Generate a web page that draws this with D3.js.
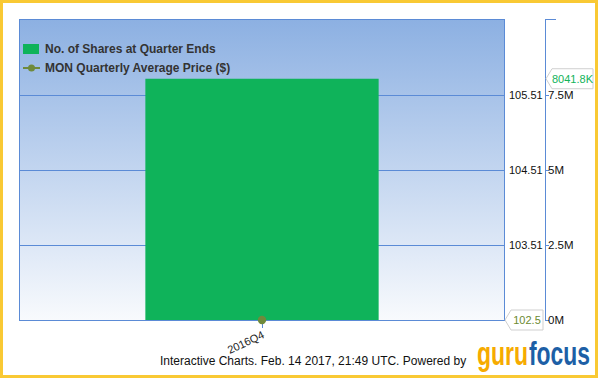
<!DOCTYPE html>
<html><head><meta charset="utf-8">
<script src="https://cdn.jsdelivr.net/npm/d3@7"></script>
<style>body{margin:0;background:#fff}svg{display:block}text{font-family:"Liberation Sans",Arial,sans-serif}</style>
</head><body>
<svg id="c" width="600" height="380"></svg>
<script>
const categories = ["2016Q4"];
const shares = [8041.8e3];
const prices = [102.5];
const priceTicks = [103.51, 104.51, 105.51];
const shareTicks = [0, 2.5e6, 5e6, 7.5e6];
const shareTickLabels = ["0M", "2.5M", "5M", "7.5M"];
const seriesNames = ["No. of Shares at Quarter Ends", "MON Quarterly Average Price ($)"];

const svg = d3.select("#c");
const L = 19, R = 505, T = 19, B = 320, AX2 = 545;

const defs = svg.append("defs");
const g = defs.append("linearGradient").attr("id","bg").attr("x1",0).attr("y1",0).attr("x2",0).attr("y2",1);
g.append("stop").attr("offset","0%").attr("stop-color","#8cb0e2");
g.append("stop").attr("offset","100%").attr("stop-color","#f8fafd");

svg.append("rect").attr("x",1.5).attr("y",1.5).attr("width",595).attr("height",375)
  .attr("fill","#fff").attr("stroke","#f9c934").attr("stroke-width",3);

const x = d3.scaleBand().domain(categories).range([L, R]).padding(0);
const ys = d3.scaleLinear().domain([0, 7.5e6 * 301 / 225]).range([B, T]);
const yp = d3.scaleLinear().domain([102.51, 102.51 + 3 * 301 / 225]).range([B, T]);

svg.append("rect").attr("x",L).attr("y",T).attr("width",R-L).attr("height",B-T).attr("fill","url(#bg)");

// gridlines
svg.append("g").selectAll("line").data(priceTicks).join("line")
  .attr("x1",L).attr("x2",R).attr("y1",d=>Math.round(yp(d))+0.5).attr("y2",d=>Math.round(yp(d))+0.5)
  .attr("stroke","#5b8bd6").attr("stroke-width",1);

// bars
const bw = (R - L) * 0.48;
svg.append("g").selectAll("rect").data(categories).join("rect")
  .attr("x",d=>x(d)+x.bandwidth()/2-bw/2).attr("width",bw)
  .attr("y",(d,i)=>ys(shares[i])).attr("height",(d,i)=>B-ys(shares[i]))
  .attr("fill","#0fb35a");

// plot border
svg.append("rect").attr("x",L+0.5).attr("y",T+0.5).attr("width",R-L-1).attr("height",B-T)
  .attr("fill","none").attr("stroke","#5b8bd6").attr("stroke-width",1);

// price axis labels
svg.append("g").selectAll("text").data(priceTicks).join("text")
  .attr("x",R+4).attr("y",d=>yp(d)).attr("dy","0.35em")
  .attr("font-size",11).attr("fill","#111").text(d=>d.toFixed(2));

// share axis
const a2 = svg.append("g");
a2.append("line").attr("x1",AX2+0.5).attr("x2",AX2+0.5).attr("y1",T).attr("y2",B+0.5).attr("stroke","#5b8bd6");
a2.append("line").attr("x1",AX2).attr("x2",AX2+11).attr("y1",T+0.5).attr("y2",T+0.5).attr("stroke","#5b8bd6");
a2.selectAll("line.t").data(shareTicks).join("line").attr("class","t")
  .attr("x1",AX2).attr("x2",AX2+4).attr("y1",d=>Math.round(ys(d))+0.5).attr("y2",d=>Math.round(ys(d))+0.5).attr("stroke","#5b8bd6");
a2.selectAll("text").data(shareTicks).join("text")
  .attr("x",AX2+3).attr("y",d=>ys(d)).attr("dy","0.35em")
  .attr("font-size",11.5).attr("fill","#111").text((d,i)=>shareTickLabels[i]);

// x tick and label
const xg = svg.append("g");
categories.forEach(c=>{
  const cx = Math.round(x(c)+x.bandwidth()/2)+0.5;
  xg.append("line").attr("x1",cx).attr("x2",cx).attr("y1",B).attr("y2",B+8).attr("stroke","#5b8bd6");
  xg.append("text").attr("transform",`translate(${cx+1},${B+14}) rotate(-25)`)
    .attr("text-anchor","end").attr("dy","0.35em").attr("font-size",11).attr("fill","#222").text(c);
});

// price points
svg.append("g").selectAll("circle").data(categories).join("circle")
  .attr("cx",d=>x(d)+x.bandwidth()/2).attr("cy",(d,i)=>Math.min(yp(prices[i]),B)).attr("r",4.2)
  .attr("fill","#6f8a3c");

// callouts
function callout(px, py, w, txt, col){
  const h = 20;
  const p = `M${px},${py} L${px+6},${py-h/2} L${px+w},${py-h/2} L${px+w},${py+h/2} L${px+6},${py+h/2} Z`;
  svg.append("path").attr("d",p).attr("fill","#fff").attr("stroke","#cfcfcf").attr("stroke-width",1);
  svg.append("text").attr("x",px+6+(w-6)/2).attr("y",py).attr("dy","0.35em").attr("text-anchor","middle")
    .attr("font-size",11).attr("fill",col).text(txt);
}
callout(AX2+1, ys(shares[0]), 47, d3.format(".1f")(shares[0]/1000)+"K", "#12b35a");
callout(R, Math.min(yp(prices[0]),B), 38, prices[0].toFixed(1), "#6b8a30");

// legend
const lg = svg.append("g");
lg.append("rect").attr("x",23).attr("y",44).attr("width",16).attr("height",10).attr("fill","#0fb35a");
lg.append("line").attr("x1",23).attr("x2",40).attr("y1",68).attr("y2",68).attr("stroke","#6f8a3c").attr("stroke-width",2);
lg.append("circle").attr("cx",31.5).attr("cy",68).attr("r",3.5).attr("fill","#6f8a3c");
lg.selectAll("text").data(seriesNames).join("text")
  .attr("x",45).attr("y",(d,i)=>49+i*19).attr("dy","0.35em")
  .attr("font-size",12).attr("font-weight","bold").attr("fill","#333").text(d=>d);

// footer
svg.append("text").attr("x",160).attr("y",361).attr("dy","0.35em").attr("font-size",12).attr("fill","#111")
  .text("Interactive Charts. Feb. 14 2017, 21:49 UTC. Powered by");
const logoParts = [["guru", 477, 51, "#f6ab00"], ["focus", 529, 61, "#1d5fa6"]];
logoParts.forEach(([t, lx, lw, col]) => {
  svg.append("text").attr("transform",`translate(${lx},365) scale(1,1.45)`).attr("font-size",23).attr("font-weight",600)
    .attr("font-family","'Open Sans','DejaVu Sans Condensed',sans-serif").attr("textLength",lw)
    .attr("lengthAdjust","spacingAndGlyphs").attr("fill",col).text(t);
});
</script>
</body></html>
